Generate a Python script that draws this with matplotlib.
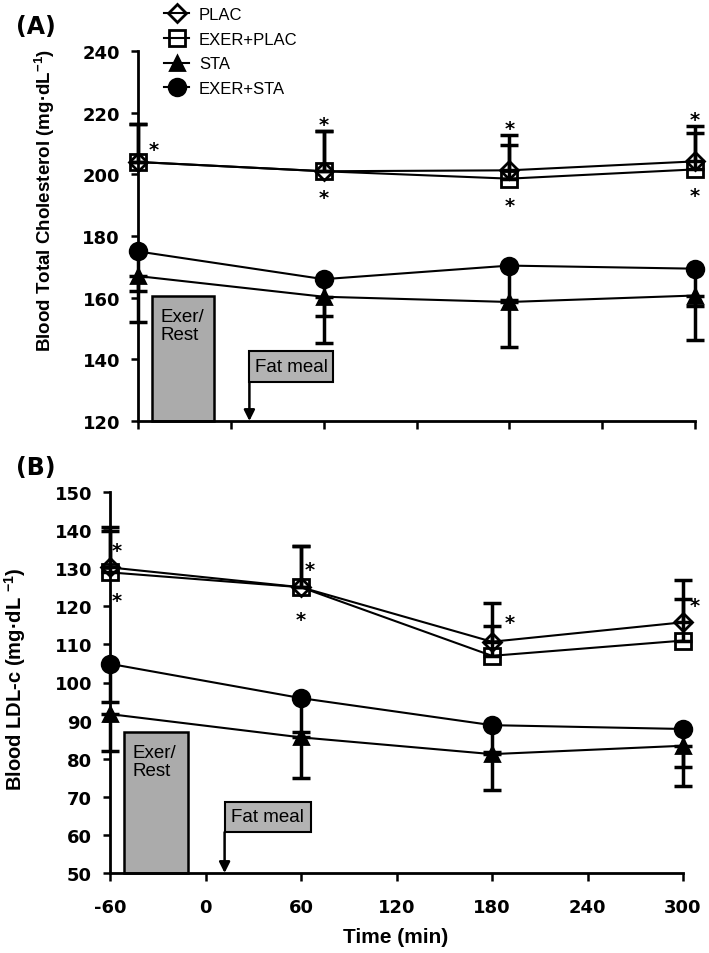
import matplotlib
matplotlib.use('Agg')
import matplotlib.pyplot as plt
from matplotlib.patches import Rectangle

# ---------------- data ----------------
time = [-60, 60, 180, 300]
xticks = [-60, 0, 60, 120, 180, 240, 300]

series_names = ['PLAC', 'EXER+PLAC', 'STA', 'EXER+STA']

# (A) Blood total cholesterol (mg/dL)
tc_plac = [204, 201, 201.3, 204.2]
tc_plac_err = [12.4, 12.9, 11.3, 11.4]
tc_explac = [204, 201, 198.6, 201.6]
tc_explac_err = [12.4, 12.9, 11.0, 11.9]
tc_sta = [167, 160.3, 158.6, 160.7]
tc_sta_err = [14.8, 15.0, 14.5, 14.4]
tc_exsta = [175, 166, 170.4, 169.4]
tc_exsta_err = [12.7, 11.9, 11.0, 12.2]

# (B) Blood LDL-c (mg/dL)
ldl_plac = [130.2, 125, 110.7, 115.8]
ldl_plac_err = [10.5, 10.9, 10.2, 11.2]
ldl_explac = [128.9, 125, 107, 111]
ldl_explac_err = [10.9, 10.9, 7.9, 11.0]
ldl_sta = [91.7, 85.6, 81.2, 83.4]
ldl_sta_err = [9.8, 10.7, 9.3, 10.5]
ldl_exsta = [104.9, 95.9, 88.8, 87.8]
ldl_exsta_err = [10.0, 9.0, 7.0, 9.9]

plt.rcParams['font.family'] = ['DejaVu Sans']
plt.rcParams['font.weight'] = 'bold'
plt.rcParams['axes.unicode_minus'] = False
plt.rcParams['mathtext.fontset'] = 'custom'
plt.rcParams['mathtext.bf'] = 'Liberation Sans:bold'
plt.rcParams['mathtext.rm'] = 'Liberation Sans:bold'
plt.rcParams['mathtext.default'] = 'bf'

fig = plt.figure(figsize=(7.09, 9.54), dpi=100)
W, H = 709, 954
axA = fig.add_axes([138 / W, 1 - 422 / H, 557 / W, 370 / H])
axB = fig.add_axes([110 / W, 1 - 874 / H, 573 / W, 381 / H])

styles = [
    dict(marker='D', ms=9, mfc='none'),
    dict(marker='s', ms=11, mfc='none'),
    dict(marker='^', ms=10.5, mfc='k'),
    dict(marker='o', ms=12, mfc='k'),
]
LABEL_FONT = ['Liberation Sans', 'DejaVu Sans']


def draw(ax, vals_list, err_list, ups, ylim, yticks, exer_top, meal_lo, meal_hi, show_xlabels):
    handles = []
    for vals, errs, st, up, name in zip(vals_list, err_list, styles, ups, series_names):
        zeros = [0] * len(errs)
        yerr = [zeros, errs] if up else [errs, zeros]
        eb = ax.errorbar(time, vals, yerr=yerr, fmt='none', ecolor='k', elinewidth=2.5,
                         capsize=6.5, capthick=2.5, zorder=3)
        for ch in eb.get_children():
            ch.set_clip_on(False)
        ln, = ax.plot(time, vals, color='k', lw=1.5, marker=st['marker'], ms=st['ms'],
                      mfc=st['mfc'], mec='k', mew=2.0, clip_on=False, zorder=4, label=name)
        handles.append(ln)
    ax.set_xlim(-60, 300)
    ax.set_ylim(*ylim)
    ax.set_xticks(xticks)
    ax.set_yticks(yticks)
    if not show_xlabels:
        ax.set_xticklabels([])
    for s in ['top', 'right']:
        ax.spines[s].set_visible(False)
    for s in ['left', 'bottom']:
        ax.spines[s].set_linewidth(2.0)
    ax.tick_params(axis='y', direction='out', length=5, width=1.8, labelsize=13, pad=8)
    ax.tick_params(axis='x', direction='out', length=6, width=1.8, labelsize=13, pad=12)
    # Exer/Rest box
    ax.add_patch(Rectangle((-51, ylim[0]), 40, exer_top - ylim[0], facecolor='#ababab',
                           edgecolor='k', lw=1.8, zorder=2, clip_on=False))
    ax.annotate('Exer/\nRest', xy=(-51, exer_top), xytext=(6, -9), textcoords='offset points',
                ha='left', va='top', fontsize=13.5, family=LABEL_FONT, fontweight='normal',
                linespacing=1.05, zorder=5)
    # Fat meal box and arrow
    ax.add_patch(Rectangle((12, meal_lo), 54, meal_hi - meal_lo, facecolor='#b3b3b3',
                           edgecolor='k', lw=1.5, zorder=2))
    ax.text(39, (meal_lo + meal_hi) / 2, 'Fat meal', ha='center', va='center', fontsize=13.5,
            family=LABEL_FONT, fontweight='normal', zorder=5)
    ax.annotate('', xy=(12, ylim[0]), xytext=(12, meal_lo),
                arrowprops=dict(arrowstyle='-|>', lw=1.8, color='k', mutation_scale=16,
                                shrinkA=0, shrinkB=0), zorder=5)
    return handles


hA = draw(axA, [tc_plac, tc_explac, tc_sta, tc_exsta],
          [tc_plac_err, tc_explac_err, tc_sta_err, tc_exsta_err],
          [True, True, False, False], (120, 240), range(120, 241, 20), 160.6, 132.6, 142.7, False)
hB = draw(axB, [ldl_plac, ldl_explac, ldl_sta, ldl_exsta],
          [ldl_plac_err, ldl_explac_err, ldl_sta_err, ldl_exsta_err],
          [True, True, False, False], (50, 150), range(50, 151, 10), 87.1, 60.7, 68.7, True)


def star(ax, x, y, dx, dy):
    ax.annotate('*', xy=(x, y), xytext=(dx, dy - 8), textcoords='offset points',
                ha='center', va='baseline', fontsize=14, fontweight='bold',
                annotation_clip=False, zorder=6)


# significance asterisks, placed relative to the data marks
top_A = [max(p + e, q + f) for p, e, q, f in zip(tc_plac, tc_plac_err, tc_explac, tc_explac_err)]
low_A = [min(p, q) for p, q in zip(tc_plac, tc_explac)]
star(axA, time[0], tc_plac[0], 11.5, 13)
for i in (1, 2, 3):
    star(axA, time[i], top_A[i], 0, 9)
    star(axA, time[i], low_A[i], 0, -15)

star(axB, time[0], ldl_plac[0], 5, 16.5)
star(axB, time[0], ldl_explac[0], 5, -16)
star(axB, time[1], ldl_plac[1], 6.5, 16.5)
star(axB, time[1], ldl_plac[1], 0, -19.5)
star(axB, time[2], ldl_plac[2], 13, 18)
star(axB, time[3], ldl_plac[3], 8.6, 16)

axA.set_ylabel('Blood Total Cholesterol (mg·dL$^{-1}$)', fontsize=13.5, fontweight='bold',
               family=LABEL_FONT)
axA.yaxis.set_label_coords(-0.146, 0.60)
axB.set_ylabel('Blood LDL-c (mg·dL $^{-1}$)', fontsize=14.5, fontweight='bold',
               family=LABEL_FONT)
axB.yaxis.set_label_coords(-0.143, 0.51)

fig.text(36 / W, 1 - 27 / H, '(A)', ha='center', va='center', fontsize=17, fontweight='bold')
fig.text(36 / W, 1 - 468 / H, '(B)', ha='center', va='center', fontsize=17, fontweight='bold')
fig.text(396 / W, 1 - 938 / H, 'Time (min)', ha='center', va='center', fontsize=15,
         fontweight='bold', family=LABEL_FONT)

leg = fig.legend(handles=hA, loc='upper left', bbox_to_anchor=(164 / W, 1 - 8 / H),
                 frameon=False, prop=dict(family=LABEL_FONT, size=12, weight='normal'),
                 handlelength=1.5, handletextpad=0.6, labelspacing=0.58, borderpad=0,
                 borderaxespad=0)

fig.savefig('out.png', dpi=100)
